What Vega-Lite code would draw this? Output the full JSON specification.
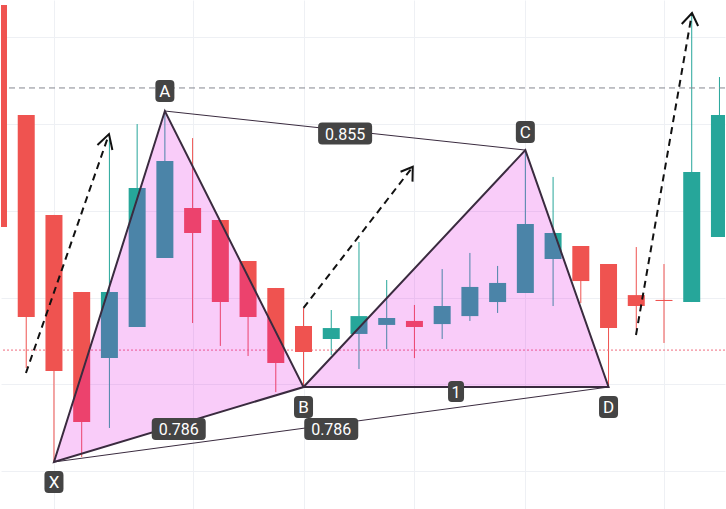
{
  "$schema": "https://vega.github.io/schema/vega-lite/v6.json",
  "width": 726,
  "height": 509,
  "autosize": {"type": "fit", "contains": "padding"},
  "padding": 0,
  "background": "white",
  "config": {"view": {"stroke": null}, "scale": {"continuousPadding": 0}},
  "datasets": {
    "candles": [
      {"i": 0, "open": 126.86, "high": 126.86, "low": 114.06, "close": 114.06},
      {"i": 1, "open": 120.52, "high": 120.52, "low": 105.94, "close": 108.88},
      {"i": 2, "open": 114.76, "high": 114.76, "low": 100.52, "close": 105.76},
      {"i": 3, "open": 110.32, "high": 110.32, "low": 100.81, "close": 102.82},
      {"i": 4, "open": 106.51, "high": 119.37, "low": 102.48, "close": 110.32},
      {"i": 5, "open": 108.30, "high": 120.00, "low": 108.30, "close": 116.31},
      {"i": 6, "open": 112.28, "high": 120.75, "low": 112.28, "close": 117.87},
      {"i": 7, "open": 115.16, "high": 119.19, "low": 108.53, "close": 113.72},
      {"i": 8, "open": 114.47, "high": 114.47, "low": 107.21, "close": 109.74},
      {"i": 9, "open": 112.10, "high": 112.10, "low": 106.63, "close": 108.88},
      {"i": 10, "open": 110.55, "high": 110.55, "low": 104.55, "close": 106.23},
      {"i": 11, "open": 108.36, "high": 109.40, "low": 104.84, "close": 106.86},
      {"i": 12, "open": 107.61, "high": 109.28, "low": 106.69, "close": 108.24},
      {"i": 13, "open": 107.90, "high": 113.20, "low": 105.88, "close": 108.93},
      {"i": 14, "open": 108.42, "high": 111.01, "low": 107.03, "close": 108.82},
      {"i": 15, "open": 108.65, "high": 109.57, "low": 106.51, "close": 108.30},
      {"i": 16, "open": 108.47, "high": 111.64, "low": 107.61, "close": 109.51},
      {"i": 17, "open": 108.93, "high": 112.57, "low": 108.65, "close": 110.61},
      {"i": 18, "open": 109.74, "high": 111.82, "low": 109.11, "close": 110.84},
      {"i": 19, "open": 110.26, "high": 118.50, "low": 110.26, "close": 114.24},
      {"i": 20, "open": 112.22, "high": 116.95, "low": 109.51, "close": 113.72},
      {"i": 21, "open": 112.97, "high": 112.97, "low": 109.68, "close": 110.95},
      {"i": 22, "open": 111.93, "high": 111.93, "low": 104.84, "close": 108.24},
      {"i": 23, "open": 110.14, "high": 112.91, "low": 108.13, "close": 109.51},
      {"i": 24, "open": 109.86, "high": 111.93, "low": 107.38, "close": 109.80},
      {"i": 25, "open": 109.74, "high": 126.40, "low": 109.74, "close": 117.23},
      {"i": 26, "open": 113.49, "high": 122.71, "low": 113.49, "close": 120.52}
    ],
    "pattern": [
      {"tri": "XAB", "ord": 1, "i": 2, "p": 100.52},
      {"tri": "XAB", "ord": 2, "i": 6, "p": 120.75},
      {"tri": "XAB", "ord": 3, "i": 11, "p": 104.84},
      {"tri": "BCD", "ord": 1, "i": 11, "p": 104.84},
      {"tri": "BCD", "ord": 2, "i": 19, "p": 118.50},
      {"tri": "BCD", "ord": 3, "i": 22, "p": 104.84}
    ],
    "thin": [
      {"seg": "AC", "ord": 1, "i": 6, "p": 120.75},
      {"seg": "AC", "ord": 2, "i": 19, "p": 118.50},
      {"seg": "XD", "ord": 1, "i": 2, "p": 100.52},
      {"seg": "XD", "ord": 2, "i": 22, "p": 104.84}
    ],
    "arrows": [
      {"a": 1, "ord": 1, "i": 0.99, "p": 105.65},
      {"a": 1, "ord": 2, "i": 3.985, "p": 119.42},
      {"a": 2, "ord": 1, "i": 11.0, "p": 109.40},
      {"a": 2, "ord": 2, "i": 14.94, "p": 117.54},
      {"a": 3, "ord": 1, "i": 22.99, "p": 107.84},
      {"a": 3, "ord": 2, "i": 25.01, "p": 126.40}
    ],
    "heads": [
      {"a": 1, "ord": 1, "i": 3.568, "p": 118.79},
      {"a": 1, "ord": 2, "i": 3.985, "p": 119.42},
      {"a": 1, "ord": 3, "i": 4.107, "p": 118.50},
      {"a": 2, "ord": 1, "i": 14.50, "p": 117.25},
      {"a": 2, "ord": 2, "i": 14.94, "p": 117.54},
      {"a": 2, "ord": 3, "i": 14.93, "p": 116.68},
      {"a": 3, "ord": 1, "i": 24.64, "p": 125.77},
      {"a": 3, "ord": 2, "i": 25.01, "p": 126.40},
      {"a": 3, "ord": 3, "i": 25.23, "p": 125.65}
    ],
    "hlines": [
      {"kind": "grey", "p": 122.08},
      {"kind": "red", "p": 106.97}
    ],
    "letters": [
      {"t": "X", "i": 2, "p": 99.37},
      {"t": "A", "i": 6, "p": 121.90},
      {"t": "B", "i": 11, "p": 103.69},
      {"t": "C", "i": 19, "p": 119.54},
      {"t": "D", "i": 22, "p": 103.69}
    ],
    "ratios": [
      {"t": "0.786", "i": 6.5, "p": 102.42},
      {"t": "0.855", "i": 12.5, "p": 119.45},
      {"t": "1", "i": 16.5, "p": 104.58},
      {"t": "0.786", "i": 12.0, "p": 102.42}
    ]
  },
  "layer": [
    {
      "data": {"name": "candles"},
      "mark": {"type": "rule", "strokeWidth": 1, "clip": true},
      "encoding": {
        "x": {"field": "i", "type": "quantitative", "scale": {"domain": [0.09, 26.2], "nice": false, "zero": false, "padding": 0},
              "axis": {"values": [2, 7, 11, 15, 19, 24], "grid": true, "gridColor": "#eef0f4", "gridWidth": 1, "labels": false, "ticks": false, "domain": false, "title": null}},
        "y": {"field": "low", "type": "quantitative", "scale": {"domain": [97.81, 127.15], "nice": false, "zero": false},
              "axis": {"values": [100, 105, 110, 115, 120, 125], "grid": true, "gridColor": "#eef0f4", "gridWidth": 1, "labels": false, "ticks": false, "domain": false, "title": null}},
        "y2": {"field": "high"},
        "color": {"condition": {"test": "datum.close >= datum.open", "value": "#26a69a"}, "value": "#ef5350"}
      }
    },
    {
      "data": {"name": "hlines"},
      "transform": [{"filter": "datum.kind == 'grey'"}],
      "mark": {"type": "rule", "stroke": "#85878f", "strokeWidth": 1, "strokeDash": [6, 4]},
      "encoding": {"y": {"field": "p", "type": "quantitative", "scale": {"domain": [97.81, 127.15], "nice": false, "zero": false}}}
    },
    {
      "data": {"name": "hlines"},
      "transform": [{"filter": "datum.kind == 'red'"}],
      "mark": {"type": "rule", "stroke": "#ef6b7e", "strokeWidth": 1, "strokeDash": [2, 2]},
      "encoding": {"y": {"field": "p", "type": "quantitative", "scale": {"domain": [97.81, 127.15], "nice": false, "zero": false}}}
    },
    {
      "data": {"name": "candles"},
      "mark": {"type": "bar", "size": 17, "clip": true},
      "encoding": {
        "x": {"field": "i", "type": "quantitative", "scale": {"domain": [0.09, 26.2], "nice": false, "zero": false, "padding": 0}},
        "y": {"field": "open", "type": "quantitative", "scale": {"domain": [97.81, 127.15], "nice": false, "zero": false}},
        "y2": {"field": "close"},
        "color": {"condition": {"test": "datum.close >= datum.open", "value": "#26a69a"}, "value": "#ef5350"}
      }
    },
    {
      "data": {"name": "pattern"},
      "mark": {"type": "line", "interpolate": "linear-closed", "fill": "#e100e1", "fillOpacity": 0.2, "stroke": "#3a2b3f", "strokeWidth": 2},
      "encoding": {
        "x": {"field": "i", "type": "quantitative", "scale": {"domain": [0.09, 26.2], "nice": false, "zero": false, "padding": 0}},
        "y": {"field": "p", "type": "quantitative", "scale": {"domain": [97.81, 127.15], "nice": false, "zero": false}},
        "detail": {"field": "tri"},
        "order": {"field": "ord"}
      }
    },
    {
      "data": {"name": "thin"},
      "mark": {"type": "line", "stroke": "#3a2b3f", "strokeWidth": 1},
      "encoding": {
        "x": {"field": "i", "type": "quantitative", "scale": {"domain": [0.09, 26.2], "nice": false, "zero": false, "padding": 0}},
        "y": {"field": "p", "type": "quantitative", "scale": {"domain": [97.81, 127.15], "nice": false, "zero": false}},
        "detail": {"field": "seg"},
        "order": {"field": "ord"}
      }
    },
    {
      "data": {"name": "arrows"},
      "mark": {"type": "line", "stroke": "#111111", "strokeWidth": 2, "strokeDash": [7, 5]},
      "encoding": {
        "x": {"field": "i", "type": "quantitative", "scale": {"domain": [0.09, 26.2], "nice": false, "zero": false, "padding": 0}},
        "y": {"field": "p", "type": "quantitative", "scale": {"domain": [97.81, 127.15], "nice": false, "zero": false}},
        "detail": {"field": "a"},
        "order": {"field": "ord"}
      }
    },
    {
      "data": {"name": "heads"},
      "mark": {"type": "line", "stroke": "#111111", "strokeWidth": 2},
      "encoding": {
        "x": {"field": "i", "type": "quantitative", "scale": {"domain": [0.09, 26.2], "nice": false, "zero": false, "padding": 0}},
        "y": {"field": "p", "type": "quantitative", "scale": {"domain": [97.81, 127.15], "nice": false, "zero": false}},
        "detail": {"field": "a"},
        "order": {"field": "ord"}
      }
    },
    {
      "data": {"name": "letters"},
      "mark": {"type": "point", "filled": true, "opacity": 1, "color": "#444444", "size": 484,
               "shape": "M -0.5,-1 L 0.5,-1 Q 0.864,-1 0.864,-0.636 L 0.864,0.636 Q 0.864,1 0.5,1 L -0.5,1 Q -0.864,1 -0.864,0.636 L -0.864,-0.636 Q -0.864,-1 -0.5,-1 Z"},
      "encoding": {
        "x": {"field": "i", "type": "quantitative", "scale": {"domain": [0.09, 26.2], "nice": false, "zero": false, "padding": 0}},
        "y": {"field": "p", "type": "quantitative", "scale": {"domain": [97.81, 127.15], "nice": false, "zero": false}}
      }
    },
    {
      "data": {"name": "letters"},
      "mark": {"type": "text", "color": "white", "font": "Roboto", "fontSize": 17, "align": "center", "baseline": "middle", "dy": 1},
      "encoding": {
        "x": {"field": "i", "type": "quantitative", "scale": {"domain": [0.09, 26.2], "nice": false, "zero": false, "padding": 0}},
        "y": {"field": "p", "type": "quantitative", "scale": {"domain": [97.81, 127.15], "nice": false, "zero": false}},
        "text": {"field": "t"}
      }
    },
    {
      "data": {"name": "ratios"},
      "transform": [{"filter": "datum.t != '1'"}],
      "mark": {"type": "point", "filled": true, "opacity": 1, "color": "#444444", "size": 2916,
               "shape": "M -0.852,-0.407 L 0.852,-0.407 Q 1,-0.407 1,-0.259 L 1,0.259 Q 1,0.407 0.852,0.407 L -0.852,0.407 Q -1,0.407 -1,0.259 L -1,-0.259 Q -1,-0.407 -0.852,-0.407 Z"},
      "encoding": {
        "x": {"field": "i", "type": "quantitative", "scale": {"domain": [0.09, 26.2], "nice": false, "zero": false, "padding": 0}},
        "y": {"field": "p", "type": "quantitative", "scale": {"domain": [97.81, 127.15], "nice": false, "zero": false}}
      }
    },
    {
      "data": {"name": "ratios"},
      "transform": [{"filter": "datum.t == '1'"}],
      "mark": {"type": "point", "filled": true, "opacity": 1, "color": "#444444", "size": 441,
               "shape": "M -0.4,-1 L 0.4,-1 Q 0.762,-1 0.762,-0.62 L 0.762,0.62 Q 0.762,1 0.4,1 L -0.4,1 Q -0.762,1 -0.762,0.62 L -0.762,-0.62 Q -0.762,-1 -0.4,-1 Z"},
      "encoding": {
        "x": {"field": "i", "type": "quantitative", "scale": {"domain": [0.09, 26.2], "nice": false, "zero": false, "padding": 0}},
        "y": {"field": "p", "type": "quantitative", "scale": {"domain": [97.81, 127.15], "nice": false, "zero": false}}
      }
    },
    {
      "data": {"name": "ratios"},
      "mark": {"type": "text", "color": "white", "font": "Roboto", "fontSize": 16, "align": "center", "baseline": "middle", "dy": 1},
      "encoding": {
        "x": {"field": "i", "type": "quantitative", "scale": {"domain": [0.09, 26.2], "nice": false, "zero": false, "padding": 0}},
        "y": {"field": "p", "type": "quantitative", "scale": {"domain": [97.81, 127.15], "nice": false, "zero": false}},
        "text": {"field": "t"}
      }
    }
  ]
}
